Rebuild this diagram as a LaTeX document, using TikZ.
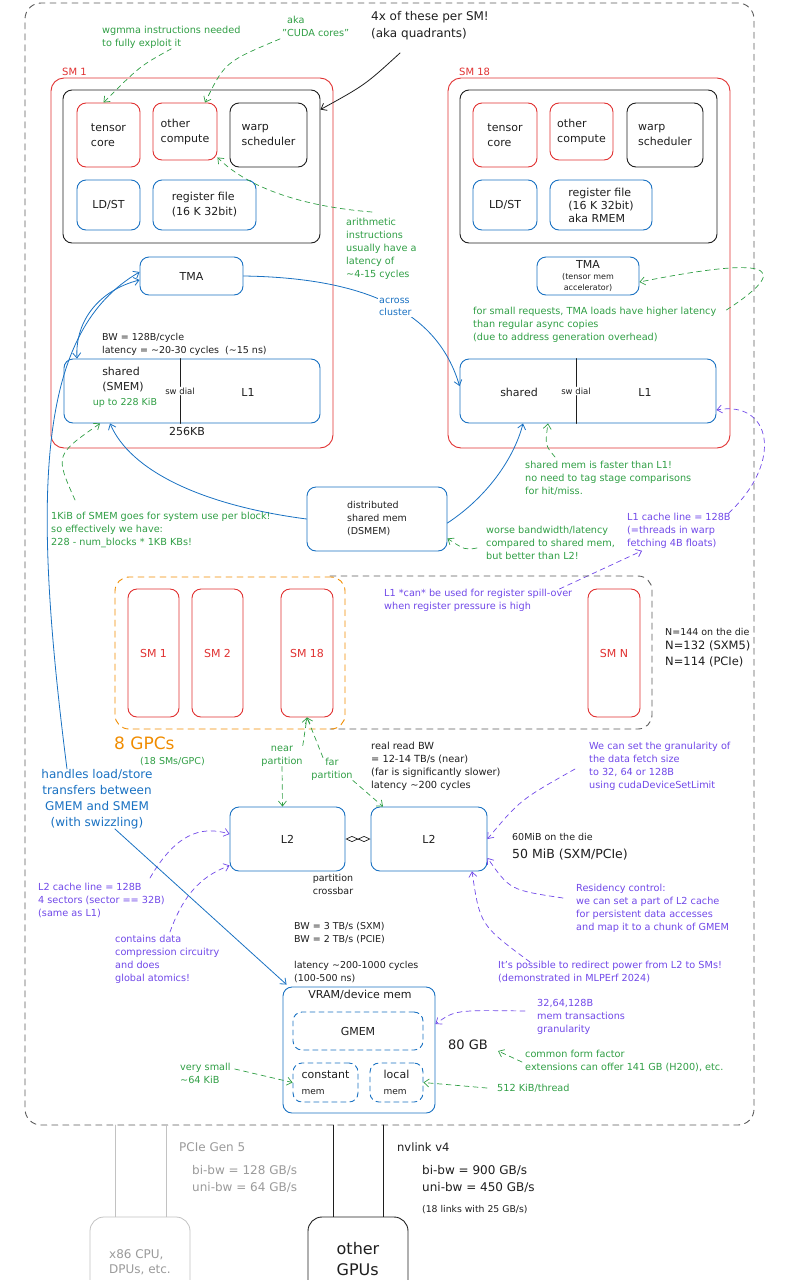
\documentclass[tikz,border=0pt]{standalone}
\usepackage{fontspec}
\setmainfont{DejaVu Sans}
\usetikzlibrary{arrows.meta, positioning, calc}

\definecolor{smred}{HTML}{E03131}
\definecolor{memblue}{HTML}{1971C2}
\definecolor{notegreen}{HTML}{2F9E44}
\definecolor{noteviolet}{HTML}{7048E8}
\definecolor{gpcorange}{HTML}{F08C00}
\definecolor{ink}{HTML}{1E1E1E}
\definecolor{diegray}{HTML}{5C5C5C}
\definecolor{pciegray}{HTML}{9A9A9A}
\newcommand{\fsz}[2]{\fontsize{#1}{#2}\selectfont}

\begin{document}
\begin{tikzpicture}[x=1pt, y=-1pt, >={Straight Barb[length=5pt,width=8pt]}, line cap=round, line join=round]

	% Styles
	\tikzset{
		box/.style={draw, rounded corners=9pt, line width=0.9pt, align=left, text=ink, font=\fsz{11}{15}, inner sep=2pt},
		redbox/.style={box, draw=smred},
		bluebox/.style={box, draw=memblue},
		inkbox/.style={box, draw=ink},
		dashbox/.style={bluebox, dash pattern=on 5pt off 4pt},
		wh/.style args={#1x#2}{minimum width=#1pt, minimum height=#2pt},
		gnote/.style={text=notegreen, font=\fsz{9.7}{13}, align=left, anchor=north west, inner sep=0pt},
		vnote/.style={gnote, text=noteviolet},
		knote/.style={gnote, text=ink, font=\fsz{9.5}{13}},
		garrow/.style={->, notegreen, line width=0.7pt, dash pattern=on 5pt off 4pt},
		varrow/.style={garrow, noteviolet},
		barrow/.style={->, memblue, line width=0.8pt},
		divider/.style={ink, line width=0.9pt}
	}

	\useasboundingbox (0,0) rectangle (800,1280);
	\clip (0,0) rectangle (800,1280);

	%======================
	% DIE OUTLINE
	%======================
	\node[draw=diegray, line width=0.9pt, dash pattern=on 6pt off 5pt, rounded corners=16pt, wh=729x1122] (die) at (389.5,564) {};

	%======================
	% SM 1 (detailed)
	%======================
	\node[redbox, rounded corners=13pt, wh=282x370] (sm1) at (192,263) {};
	\node[anchor=west, text=smred, font=\fsz{10}{12}, inner sep=0pt] (sm1lbl) at (62,72) {SM 1};
	\node[inkbox, wh=257x153] (q1) at (191.5,166.5) {};
	\node[redbox, wh=63x64] (tc1) at (108.5,135) {tensor\\core};
	\node[redbox, wh=64x57] (oc1) at (185,131.5) {other\\compute};
	\node[inkbox, wh=77x64] (ws1) at (268.5,135) {warp\\scheduler};
	\node[bluebox, wh=63x50] (ld1) at (108.5,205) {LD/ST};
	\node[bluebox, wh=103x50] (rf1) at (204.5,205) {register file\\(16 K 32bit)};
	\node[bluebox, wh=103x38] (tma1) at (191.5,276) {TMA};

	\node[knote] (bw1) at (102,333) {BW = 128B/cycle\\latency = \textasciitilde20-30 cycles\ \ (\textasciitilde15 ns)};
	\node[bluebox, wh=256x64] (sh1) at (192,391) {};
	\node[text=ink, font=\fsz{11}{15}, align=left, inner sep=0pt] (smem1) at (123,380) {shared\\(SMEM)};
	\node[text=notegreen, font=\fsz{9.5}{12}, inner sep=0pt] (cap1) at (125,403) {up to 228 KiB};
	\node[text=ink, font=\fsz{8.5}{10}, inner sep=1pt] (dial1) at (180,391) {sw dial};
	\node[text=ink, font=\fsz{11}{13}, inner sep=0pt] (l1a) at (248,392) {L1};
	\draw[divider] (dial1.north |- sh1.north) -- (dial1.north);
	\draw[divider] (dial1.south) -- (dial1.south |- sh1.south);
	\node[text=ink, font=\fsz{11}{13}, inner sep=0pt] (kb1) at (187,431) {256KB};

	%======================
	% SM 18 (detailed)
	%======================
	\node[redbox, rounded corners=13pt, wh=282x370] (sm18) at (589,263) {};
	\node[anchor=west, text=smred, font=\fsz{10}{12}, inner sep=0pt] (sm18lbl) at (459,72) {SM 18};
	\node[inkbox, wh=257x153] (q18) at (588.5,166.5) {};
	\node[redbox, wh=64x64] (tc18) at (505,135) {tensor\\core};
	\node[redbox, wh=63x57] (oc18) at (581.5,131.5) {other\\compute};
	\node[inkbox, wh=76x64] (ws18) at (665,135) {warp\\scheduler};
	\node[bluebox, wh=64x50] (ld18) at (505,205) {LD/ST};
	\node[bluebox, wh=102x50, font=\fsz{11}{13}] (rf18) at (601,205) {register file\\(16 K 32bit)\\aka RMEM};
	\node[bluebox, wh=102x38, align=center, font=\fsz{11}{11}] (tma18) at (588,276) {TMA\\{\fsz{8}{9.5}(tensor mem}\\{\fsz{8}{9.5}accelerator)}};

	\node[gnote] (tmanote) at (473,307) {for small requests, TMA loads have higher latency\\than regular async copies\\(due to address generation overhead)};
	\node[bluebox, wh=256x64] (sh18) at (588,391) {};
	\node[text=ink, font=\fsz{11}{13}, inner sep=0pt] (smem18) at (519,392) {shared};
	\node[text=ink, font=\fsz{8.5}{10}, inner sep=1pt] (dial18) at (576,391) {sw dial};
	\node[text=ink, font=\fsz{11}{13}, inner sep=0pt] (l1b) at (645,392) {L1};
	\draw[divider] (dial18.north |- sh18.north) -- (dial18.north);
	\draw[divider] (dial18.south) -- (dial18.south |- sh18.south);

	%======================
	% NOTES AROUND THE SMs
	%======================
	\node[gnote] (wgmma) at (102,26) {wgmma instructions needed\\to fully exploit it};
	\node[gnote] (cuda) at (282,16) {\hspace*{5pt}aka\\"CUDA cores"};
	\node[knote, font=\fsz{12}{17}] (quad) at (371,11) {4x of these per SM!\\(aka quadrants)};
	\node[gnote] (arith) at (346,218) {arithmetic\\instructions\\usually have a\\latency of\\\textasciitilde4-15 cycles};
	\node[gnote] (shnote) at (525,461) {shared mem is faster than L1!\\no need to tag stage comparisons\\for hit/miss.};
	\node[gnote] (smemnote) at (51,512) {1KiB of SMEM goes for system use per block!\\so effectively we have:\\228 - num\_blocks * 1KB KBs!};
	\node[gnote] (dsnote) at (486,526) {worse bandwidth/latency\\compared to shared mem,\\but better than L2!};
	\node[vnote] (l1line) at (627,513) {L1 cache line = 128B\\(=threads in warp\\fetching 4B floats)};
	\node[vnote] (spill) at (384,589) {L1 *can* be used for register spill-over\\when register pressure is high};

	\node[bluebox, wh=140x64, align=left, font=\fsz{9.5}{13}] (ds) at (377,519) {distributed\\shared mem\\(DSMEM)};

	\draw[garrow] (wgmma.south) .. controls (140,66) .. ([xshift=-5pt]tc1.north);
	\draw[garrow] ([xshift=-2pt,yshift=-2pt]cuda.south west) .. controls (225,62) .. ([xshift=20pt]oc1.north);
	\draw[->, ink, line width=0.8pt] ([xshift=29pt,yshift=-13pt]quad.south west) .. controls (365,85) .. ([yshift=-20pt]q1.north east);
	\draw[garrow] ([xshift=26pt,yshift=6pt]arith.north west) .. controls (285,205) and (240,180) .. ([yshift=3pt]oc1.south east);

	\draw[barrow, <->] ([yshift=-4pt]tma1.west) .. controls (100,290) and (75,320) .. ([xshift=-115pt]sh1.north);
	\draw[barrow] (tma1.east) .. controls (380,278) and (440,320) .. ([yshift=5pt]sh18.west)
		node[pos=0.5, fill=white, inner sep=1pt, text=memblue, font=\fsz{9.5}{12}, align=left] (across) {across\\cluster};
	\draw[garrow] ([xshift=10pt,yshift=-3pt]tmanote.north east) .. controls (800,262) and (760,258) .. ([yshift=-6pt]tma18.east);

	\draw[garrow] ([xshift=30pt,yshift=4pt]shnote.north west) .. controls (545,445) .. ([xshift=-40pt]sh18.south);
	\draw[barrow] (ds.west) .. controls (200,505) and (130,470) .. ([xshift=-82pt]sh1.south);
	\draw[barrow] ([yshift=-4pt]ds.east) .. controls (490,495) and (515,455) .. ([xshift=-65pt]sh18.south);
	\draw[garrow] ([xshift=-9pt,yshift=-22pt]dsnote.north west) .. controls (465,550) .. ([yshift=13pt]ds.south east);
	\draw[garrow] ([xshift=24pt,yshift=12pt]smemnote.north west) .. controls (55,455) .. ([xshift=-92pt]sh1.south);
	\draw[varrow] ([xshift=-2pt]l1line.north east) .. controls (785,460) and (770,400) .. ([yshift=-19pt]sh18.east);
	\draw[varrow] ([xshift=-13pt]spill.north east) .. controls (600,570) .. ([xshift=15pt,yshift=-2pt]l1line.south west);

	%======================
	% GPC ROW
	%======================
	\draw[diegray, line width=0.9pt, dash pattern=on 6pt off 5pt, rounded corners=14pt] (330,576) -- (652,576) -- (652,729) -- (330,729);
	\node[draw=gpcorange, line width=0.9pt, dash pattern=on 6pt off 5pt, rounded corners=14pt, wh=230x152] (gpc) at (230,653) {};
	\node[redbox, text=smred, align=center, wh=51x128] (g1) at (153.5,653) {SM 1};
	\node[redbox, text=smred, align=center, wh=51x128] (g2) at (217.5,653) {SM 2};
	\node[redbox, text=smred, align=center, wh=52x128] (g18) at (307,653) {SM 18};
	\node[redbox, text=smred, align=center, wh=52x128] (gN) at (614,653) {SM N};
	\node[anchor=west, text=gpcorange, font=\fsz{17}{20}, inner sep=0pt] (gpclbl) at (114,743) {8 GPCs};
	\node[anchor=west, text=notegreen, font=\fsz{9.5}{12}, inner sep=0pt] (gpcsm) at (140,762) {(18 SMs/GPC)};
	\node[knote, font=\fsz{9.5}{12}] (ndie) at (665,628) {N=144 on the die};
	\node[knote, font=\fsz{11.5}{16}] (nsku) at (665,641) {N=132 (SXM5)\\N=114 (PCIe)};

	%======================
	% L2
	%======================
	\node[gnote, align=center, anchor=center] (near) at (282,756) {near\\partition};
	\node[gnote, align=center, anchor=center] (far) at (332,769) {far\\partition};
	\node[bluebox, align=center, wh=115x64] (L2a) at (287.5,839) {L2};
	\node[bluebox, align=center, wh=116x64] (L2b) at (429,839) {L2};
	\draw[{Diamond[open,length=13pt,width=6pt]}-{Diamond[open,length=13pt,width=6pt]}, ink, line width=0.7pt] (L2a.east) -- (L2b.west);
	\node[knote, align=center, anchor=center] (xbar) at (333,884) {partition\\crossbar};

	\draw[garrow] (near.north east) -- (g18.south);
	\draw[garrow] ([xshift=-9pt]far.north) -- (g18.south);
	\draw[garrow] (near.south) -- ([xshift=-5pt]L2a.north);
	\draw[garrow] (far.south east) -- ([xshift=-46pt]L2b.north);

	\node[knote, font=\fsz{9.8}{13}] (readbw) at (371,742) {real read BW\\= 12-14 TB/s (near)\\(far is significantly slower)\\latency \textasciitilde200 cycles};
	\node[vnote] (gran) at (589,742) {We can set the granularity of\\the data fetch size\\to 32, 64 or 128B\\using cudaDeviceSetLimit};
	\node[knote, font=\fsz{9.5}{12}] (l2die) at (512,833) {60MiB on the die};
	\node[knote, font=\fsz{12.5}{15}] (l2sku) at (512,849) {50 MiB (SXM/PCIe)};
	\node[vnote] (resid) at (576,884) {Residency control:\\we can set a part of L2 cache\\for persistent data accesses\\and map it to a chunk of GMEM};
	\node[vnote] (power) at (498,961) {It's possible to redirect power from L2 to SMs!\\(demonstrated in MLPErf 2024)};
	\node[vnote] (l2line) at (38,883) {L2 cache line = 128B\\4 sectors (sector == 32B)\\(same as L1)};
	\node[vnote] (compress) at (115,935) {contains data\\compression circuitry\\and does\\global atomics!};
	\node[text=memblue, font=\fsz{12}{16}, align=center, inner sep=0pt] (handles) at (97,799) {handles load/store\\transfers between\\GMEM and SMEM\\(with swizzling)};

	\draw[barrow] ([xshift=-30pt]handles.north) .. controls (30,480) and (40,330) .. ([yshift=4pt]tma1.west);
	\draw[varrow] ([xshift=-14pt,yshift=-27pt]gran.north west) .. controls (520,800) .. (L2b.east);
	\draw[varrow] ([xshift=-13pt,yshift=-14pt]resid.north west) .. controls (510,890) .. ([yshift=-19pt]L2b.east);
	\draw[varrow] ([xshift=32pt,yshift=-1pt]power.north west) .. controls (480,925) .. ([xshift=43pt]L2b.south);
	\draw[varrow] ([xshift=112pt,yshift=5pt]l2line.north west) .. controls (175,835) and (200,825) .. ([yshift=5pt]L2a.west);
	\draw[varrow] ([xshift=55pt,yshift=3pt]compress.north west) .. controls (185,890) and (205,875) .. ([yshift=6pt]L2a.south west);

	%======================
	% VRAM
	%======================
	\node[knote] (vrambw) at (294,922) {BW = 3 TB/s (SXM)\\BW = 2 TB/s (PCIE)};
	\node[knote] (vramlat) at (294,961) {latency \textasciitilde200-1000 cycles\\(100-500 ns)};
	\node[bluebox, wh=152x126] (vram) at (359,1050) {};
	\node[text=ink, font=\fsz{11}{13}, fill=white, inner sep=1pt] (vramlbl) at (360,995) {VRAM/device mem};
	\node[dashbox, align=center, wh=130x38] (gmem) at (358,1031) {GMEM};
	\node[dashbox, font=\fsz{11}{16}, wh=65x39, inner sep=1pt] (cmem) at (325.5,1082.5) {constant\\\fsz{9}{12}mem};
	\node[dashbox, font=\fsz{11}{16}, wh=53x39, inner sep=1pt] (lmem) at (396.5,1082.5) {local\\\fsz{9}{12}mem};
	\node[anchor=west, text=ink, font=\fsz{13}{15}, inner sep=0pt] (gb80) at (448,1045) {80 GB};
	\node[vnote] (trans) at (537,999) {32,64,128B\\mem transactions\\granularity};
	\node[gnote] (ff) at (525,1050) {common form factor\\extensions can offer 141 GB (H200), etc.};
	\node[anchor=west, text=notegreen, font=\fsz{9.7}{12}, inner sep=0pt] (tpl) at (497,1088) {512 KiB/thread};
	\node[gnote] (small) at (180,1063) {very small\\\textasciitilde64 KiB};

	\draw[barrow] ([xshift=18pt]handles.south) -- ([xshift=4pt,yshift=2pt]vram.north west);
	\draw[varrow] ([xshift=-12pt,yshift=-12pt]trans.north west) .. controls (455,1010) .. ([yshift=26pt]vram.east);
	\draw[garrow] ([xshift=-3pt,yshift=-12pt]ff.north west) -- ([xshift=10pt,yshift=-6pt]gb80.east);
	\draw[garrow] ([xshift=-10pt]tpl.west) -- (lmem.east);
	\draw[garrow] ([xshift=4pt,yshift=-6pt]small.north east) -- (cmem.west);

	%======================
	% OFF-CHIP LINKS
	%======================
	\coordinate (pcieA) at (115,1125);
	\coordinate (pcieB) at (166,1125);
	\coordinate (nvA) at (333,1125);
	\coordinate (nvB) at (383,1125);
	\node[draw=pciegray!60, line width=0.8pt, rounded corners=14pt, wh=100x90, text=pciegray, font=\fsz{12}{15}, align=left] (cpu) at (140,1262) {x86 CPU,\\DPUs, etc.};
	\node[draw=ink, line width=0.9pt, rounded corners=14pt, wh=100x92, text=ink, font=\fsz{16}{21}, align=left] (gpus) at (358,1263) {other\\GPUs\vspace*{8pt}};
	\draw[pciegray!60, line width=0.8pt] (pcieA) -- (pcieA |- cpu.north);
	\draw[pciegray!60, line width=0.8pt] (pcieB) -- (pcieB |- cpu.north);
	\draw[ink, line width=0.8pt] (nvA) -- (nvA |- gpus.north);
	\draw[ink, line width=0.8pt] (nvB) -- (nvB |- gpus.north);

	\node[anchor=west, text=pciegray, font=\fsz{12}{14}, inner sep=0pt] (pcielbl) at (179,1147) {PCIe Gen 5};
	\node[knote, text=pciegray, font=\fsz{12}{17}] (pciebw) at (192,1165) {bi-bw = 128 GB/s\\uni-bw = 64 GB/s};
	\node[anchor=west, text=ink, font=\fsz{11.5}{13}, inner sep=0pt] (nvlbl) at (397,1147) {nvlink v4};
	\node[knote, font=\fsz{12}{17}] (nvbw) at (422,1165) {bi-bw = 900 GB/s\\uni-bw = 450 GB/s};
	\node[anchor=west, text=ink, font=\fsz{9.3}{11}, inner sep=0pt] (nvlinks) at (422,1210) {(18 links with 25 GB/s)};
\end{tikzpicture}
\end{document}
